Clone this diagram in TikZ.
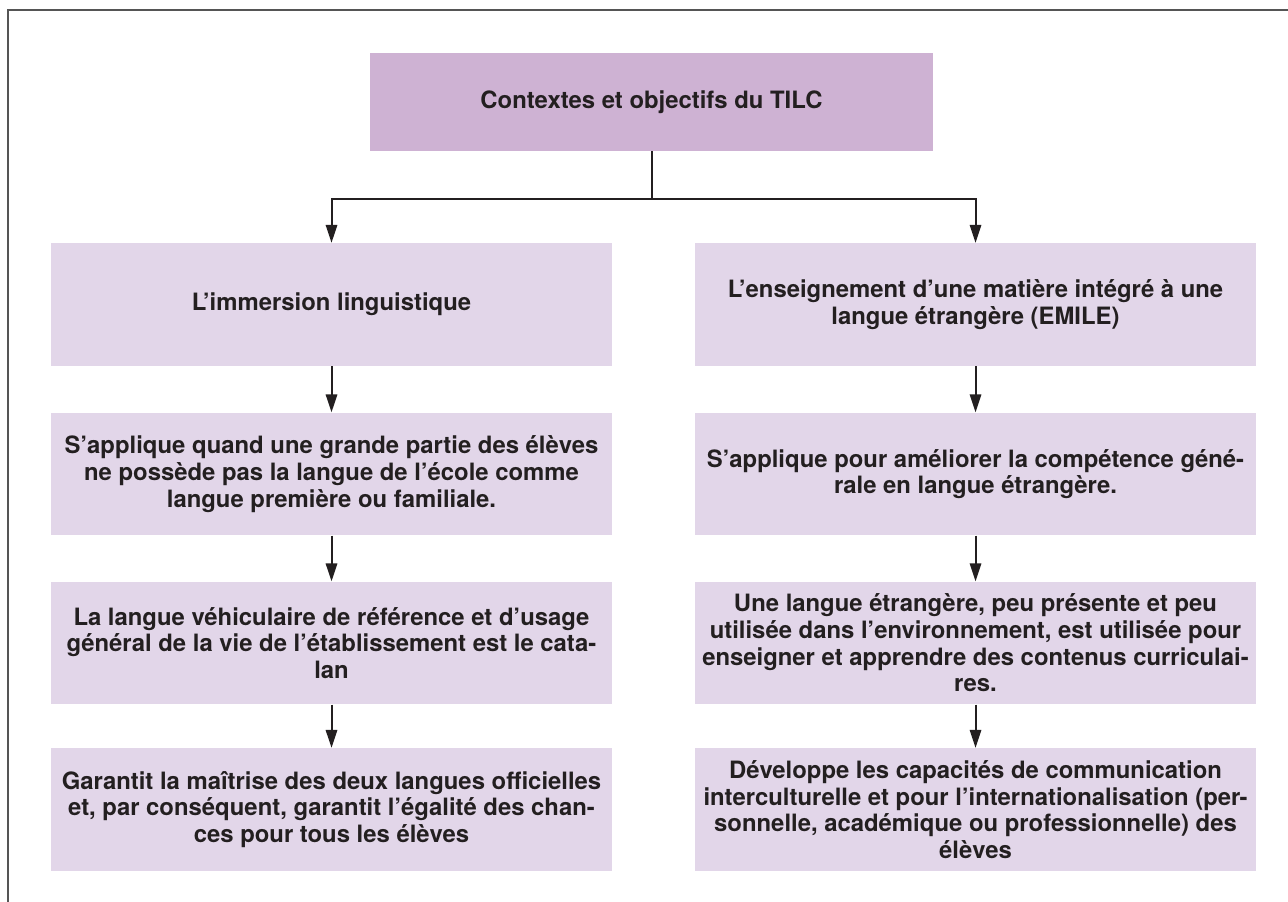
\documentclass[tikz,border=0pt]{standalone}
\usepackage{fontspec}
\setmainfont{TeX Gyre Heros}
\usetikzlibrary{arrows.meta}

\definecolor{headfill}{HTML}{CEB2D3}
\definecolor{boxfill}{HTML}{E2D6E9}
\definecolor{inktext}{HTML}{231F20}
\definecolor{framegray}{HTML}{555555}

\tikzset{
  basebox/.style={rectangle, draw=none, align=center, inner xsep=0pt, inner ysep=0pt,
    text=inktext, font=\fontsize{17.9pt}{20pt}\selectfont\bfseries},
  headbox/.style={basebox, fill=headfill, minimum width=422.25pt, minimum height=73.5pt},
  colbox/.style={basebox, fill=boxfill, minimum width=420.75pt, minimum height=92pt},
  link/.style={draw=inktext, line width=1.5pt},
  flow/.style={link, -{Triangle[length=13.5pt, width=8.5pt]}}
}

\begin{document}
\begin{tikzpicture}[x=0.75pt, y=-0.75pt]
  \useasboundingbox (0,0) rectangle (1288,902);
  \fill[white] (0,0) rectangle (1288,902);

  % outer frame (top and left edges)
  \draw[framegray, line width=1.5pt] (8,902) -- (8,10) -- (1288,10);

  % heading
  \node[headbox] (top) at (651.5,102) {Contextes et objectifs du TILC};

  % left column
  \node[colbox] (l1) at (331.5,304.5) {L’immersion linguistique};
  \node[colbox] (l2) at (331.5,474) {S’applique quand une grande partie des élèves\\ne possède pas la langue de l’école comme\\langue première ou familiale.};
  \node[colbox] (l3) at (331.5,643) {La langue véhiculaire de référence et d’usage\\général de la vie de l’établissement est le cata-\\lan};
  \node[colbox] (l4) at (331.5,809.5) {Garantit la maîtrise des deux langues officielles\\et, par conséquent, garantit l’égalité des chan-\\ces pour tous les élèves};

  % right column
  \node[colbox] (r1) at (975.5,304.5) {L’enseignement d’une matière intégré à une\\langue étrangère (EMILE)};
  \node[colbox] (r2) at (975.5,474) {S’applique pour améliorer la compétence géné-\\rale en langue étrangère.};
  \node[colbox] (r3) at (975.5,643) {Une langue étrangère, peu présente et peu\\utilisée dans l’environnement, est utilisée pour\\enseigner et apprendre des contenus curriculai-\\res.};
  \node[colbox] (r4) at (975.5,809.5) {Développe les capacités de communication\\interculturelle et pour l’internationalisation (per-\\sonnelle, académique ou professionnelle) des\\élèves};

  % branching from the heading
  \coordinate (split) at (651.5,199);
  \draw[link] (top.south) -- (split);
  \draw[flow] (split) -| (l1.north);
  \draw[flow] (split) -| (r1.north);

  % column flows
  \draw[flow] (l1.south) -- (l2.north);
  \draw[flow] (l2.south) -- (l3.north);
  \draw[flow] (l3.south) -- (l4.north);
  \draw[flow] (r1.south) -- (r2.north);
  \draw[flow] (r2.south) -- (r3.north);
  \draw[flow] (r3.south) -- (r4.north);
\end{tikzpicture}
\end{document}
